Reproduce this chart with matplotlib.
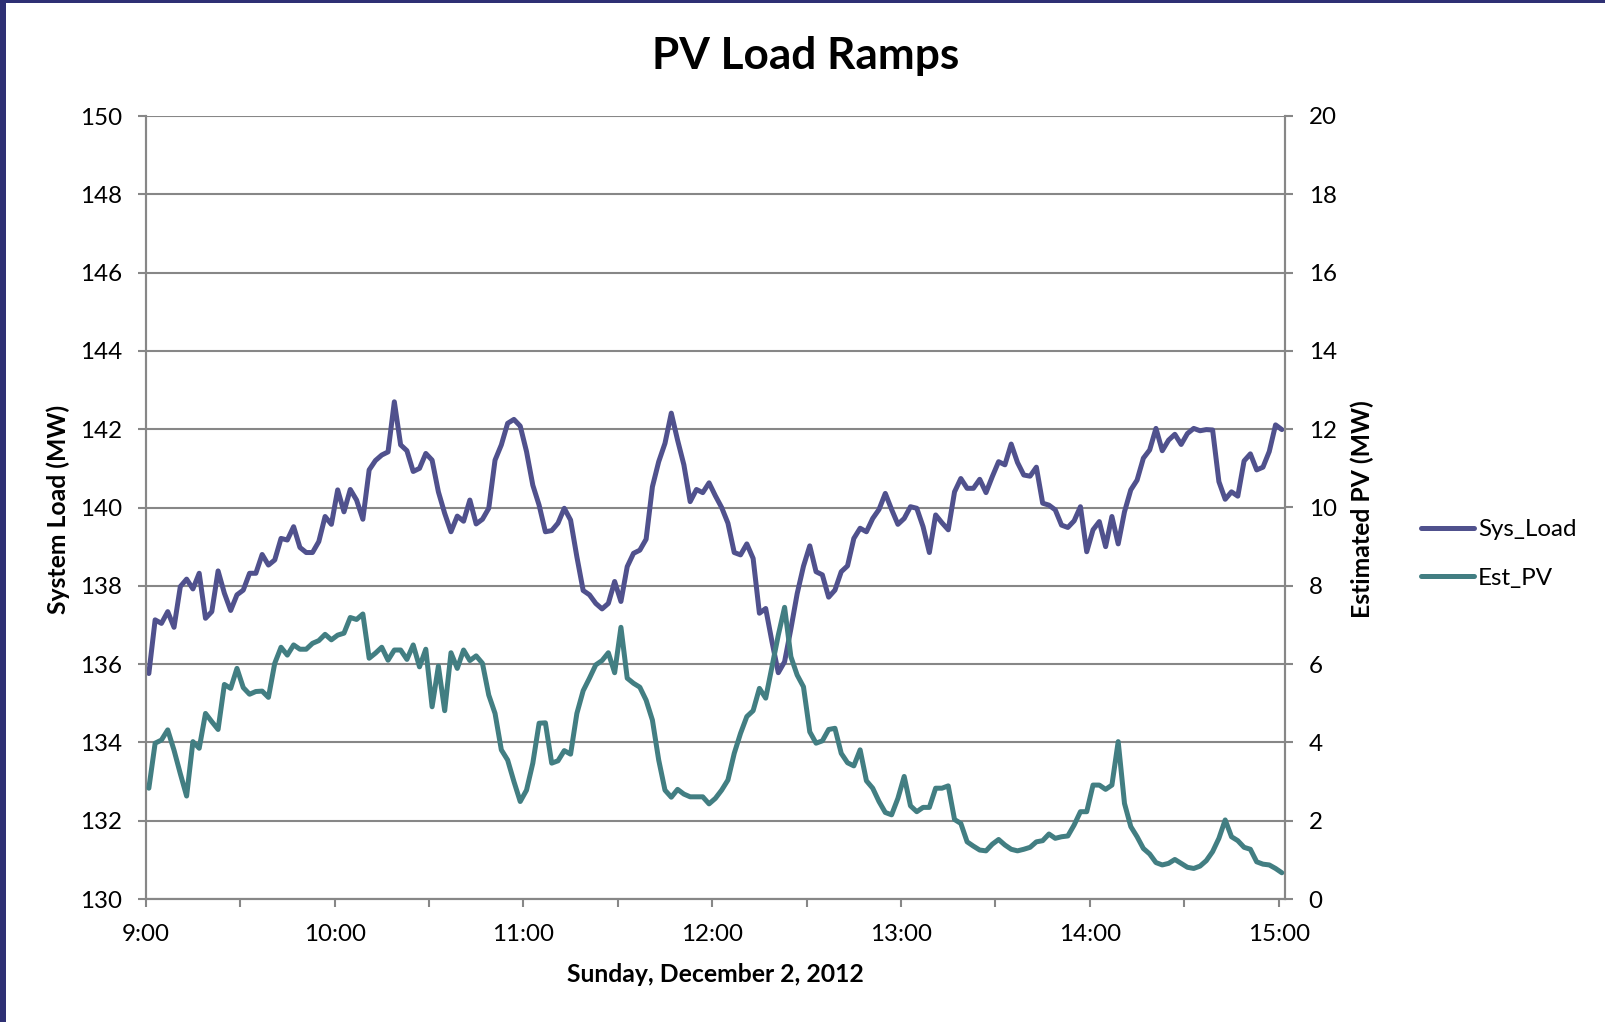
import numpy as np
import pandas as pd
import matplotlib
matplotlib.use("Agg")
import matplotlib.pyplot as plt
import matplotlib.dates as mdates
from matplotlib.patches import Rectangle

plt.rcParams['font.family'] = ['Lato', 'DejaVu Sans']

title = "PV Load Ramps"
x_label = "Sunday, December 2, 2012"
left_label = "System Load (MW)"
right_label = "Estimated PV (MW)"
series_names = ["Sys_Load", "Est_PV"]
first_time = "2012-12-02 09:01"
sample_minutes = 2
axis_start = "2012-12-02 09:00"
axis_end = "2012-12-02 15:02"

sys_load = [
    135.76, 137.13, 137.04, 137.34, 136.94, 137.98, 138.17, 137.92, 138.32, 137.17,
    137.34, 138.38, 137.81, 137.37, 137.77, 137.89, 138.32, 138.32, 138.80, 138.53,
    138.66, 139.21, 139.17, 139.51, 138.98, 138.85, 138.85, 139.13, 139.77, 139.57,
    140.45, 139.89, 140.46, 140.19, 139.70, 140.96, 141.20, 141.34, 141.42, 142.70,
    141.60, 141.45, 140.92, 141.00, 141.38, 141.21, 140.40, 139.85, 139.38, 139.78,
    139.65, 140.19, 139.58, 139.70, 139.98, 141.21, 141.60, 142.15, 142.25, 142.08,
    141.43, 140.57, 140.06, 139.38, 139.41, 139.60, 139.98, 139.68, 138.74, 137.88,
    137.77, 137.55, 137.41, 137.55, 138.11, 137.60, 138.49, 138.83, 138.91, 139.19,
    140.53, 141.17, 141.64, 142.41, 141.72, 141.09, 140.15, 140.46, 140.38, 140.63,
    140.30, 140.00, 139.60, 138.85, 138.79, 139.07, 138.70, 137.30, 137.42, 136.57,
    135.78, 136.06, 136.90, 137.80, 138.50, 139.02, 138.36, 138.28, 137.71, 137.89,
    138.36, 138.51, 139.21, 139.47, 139.38, 139.72, 139.95, 140.36, 139.95, 139.57,
    139.72, 140.02, 139.98, 139.51, 138.85, 139.81, 139.61, 139.43, 140.40, 140.74,
    140.49, 140.49, 140.72, 140.38, 140.79, 141.17, 141.09, 141.62, 141.15, 140.83,
    140.80, 141.03, 140.11, 140.06, 139.94, 139.55, 139.49, 139.66, 140.02, 138.87,
    139.43, 139.64, 139.00, 139.77, 139.07, 139.89, 140.45, 140.70, 141.26, 141.47,
    142.02, 141.45, 141.72, 141.87, 141.61, 141.89, 142.02, 141.96, 141.99, 141.98,
    140.66, 140.21, 140.40, 140.29, 141.19, 141.37, 140.96, 141.03, 141.43, 142.11,
    141.99,
]

est_pv = [
    2.83, 3.98, 4.06, 4.32, 3.80, 3.20, 2.63, 4.02, 3.85, 4.74,
    4.53, 4.33, 5.48, 5.38, 5.89, 5.40, 5.23, 5.30, 5.31, 5.15,
    6.02, 6.43, 6.23, 6.49, 6.38, 6.38, 6.53, 6.60, 6.76, 6.62,
    6.74, 6.79, 7.19, 7.14, 7.28, 6.15, 6.28, 6.43, 6.10, 6.36,
    6.36, 6.12, 6.49, 5.93, 6.38, 4.91, 5.95, 4.81, 6.29, 5.89,
    6.36, 6.09, 6.21, 6.02, 5.21, 4.74, 3.81, 3.55, 3.00, 2.49,
    2.78, 3.47, 4.49, 4.50, 3.47, 3.53, 3.79, 3.70, 4.74, 5.32,
    5.64, 5.98, 6.09, 6.29, 5.78, 6.94, 5.64, 5.51, 5.41, 5.08,
    4.57, 3.55, 2.78, 2.60, 2.80, 2.68, 2.61, 2.61, 2.61, 2.43,
    2.57, 2.78, 3.04, 3.72, 4.23, 4.66, 4.81, 5.38, 5.13, 5.93,
    6.74, 7.45, 6.19, 5.72, 5.42, 4.27, 3.98, 4.04, 4.33, 4.36,
    3.72, 3.48, 3.40, 3.81, 3.02, 2.83, 2.49, 2.21, 2.15, 2.57,
    3.13, 2.38, 2.23, 2.34, 2.34, 2.83, 2.83, 2.89, 2.03, 1.93,
    1.46, 1.35, 1.25, 1.23, 1.40, 1.52, 1.38, 1.27, 1.23, 1.27,
    1.32, 1.46, 1.49, 1.66, 1.55, 1.59, 1.61, 1.89, 2.23, 2.23,
    2.91, 2.91, 2.80, 2.91, 4.02, 2.44, 1.85, 1.59, 1.29, 1.15,
    0.93, 0.87, 0.91, 1.01, 0.91, 0.81, 0.78, 0.84, 0.98, 1.21,
    1.55, 2.02, 1.59, 1.49, 1.32, 1.27, 0.95, 0.89, 0.87, 0.78,
    0.67,
]

left_ticks = [130, 132, 134, 136, 138, 140, 142, 144, 146, 148, 150]
right_ticks = [0, 2, 4, 6, 8, 10, 12, 14, 16, 18, 20]

times = pd.date_range(first_time, periods=len(sys_load), freq=f"{sample_minutes}min")

load_color = "#50518D"
pv_color = "#427E82"
grid_color = "#878787"
fs = 17.4
fs_lab = 17.8

fig = plt.figure(figsize=(16.06, 10.22), dpi=100)
fig.patch.set_facecolor("white")
# navy frame edges
fig.patches.append(Rectangle((0, 0), 6 / 1606, 1, transform=fig.transFigure,
                             facecolor="#2E3074", edgecolor="none", zorder=10))
fig.patches.append(Rectangle((0, 1 - 3 / 1022), 1, 3 / 1022, transform=fig.transFigure,
                             facecolor="#2E3074", edgecolor="none", zorder=10))

ax = fig.add_axes([145.7 / 1606, 1 - 899 / 1022, (1285 - 145.7) / 1606, (899 - 116) / 1022])
ax2 = ax.twinx()

l1, = ax.plot(times, sys_load, color=load_color, lw=3.6, solid_joinstyle="round",
              solid_capstyle="round", label=series_names[0], zorder=3)
l2, = ax2.plot(times, est_pv, color=pv_color, lw=3.6, solid_joinstyle="round",
               solid_capstyle="round", label=series_names[1], zorder=3)

ax.set_xlim(pd.Timestamp(axis_start), pd.Timestamp(axis_end))
ax.set_ylim(130, 150)
ax2.set_ylim(0, 20)
ax.set_yticks(left_ticks)
ax2.set_yticks(right_ticks)

ax.xaxis.set_major_locator(mdates.HourLocator())
ax.xaxis.set_minor_locator(mdates.MinuteLocator(byminute=[30]))
ax.xaxis.set_major_formatter(mdates.DateFormatter("%-H:%M"))

ax.grid(axis="y", color=grid_color, lw=1.5)
ax.set_axisbelow(True)

for a in (ax, ax2):
    for s in a.spines.values():
        s.set_color(grid_color)
        s.set_linewidth(1.5)
    a.spines["top"].set_visible(False)

ax.tick_params(axis="y", which="major", direction="out", length=6, width=1.5,
               color=grid_color, labelsize=fs, pad=11)
ax2.tick_params(axis="y", which="major", direction="out", length=6, width=1.5,
                color=grid_color, labelsize=fs, pad=11)
ax.tick_params(axis="x", which="both", direction="out", length=6, width=1.5,
               color=grid_color, labelsize=fs, pad=12)

fig.text(806 / 1606, 1 - 56 / 1022, title, ha="center", va="center",
         fontsize=31.8, fontweight="bold")
fig.text(58 / 1606, 1 - 509 / 1022, left_label, rotation=90, ha="center", va="center",
         fontsize=fs_lab, fontweight="bold")
fig.text(1362 / 1606, 1 - 509 / 1022, right_label, rotation=90, ha="center", va="center",
         fontsize=fs_lab, fontweight="bold")
fig.text(715 / 1606, 1 - 974 / 1022, x_label, ha="center", va="center",
         fontsize=fs_lab, fontweight="bold")

fig.legend(handles=[l1, l2], loc="center left", bbox_to_anchor=(1421 / 1606, 1 - 554 / 1022),
           frameon=False, fontsize=fs, handlelength=2.2, handletextpad=0.15,
           labelspacing=1.15, borderaxespad=0, borderpad=0)

fig.savefig("out.png", dpi=100, facecolor="white")
